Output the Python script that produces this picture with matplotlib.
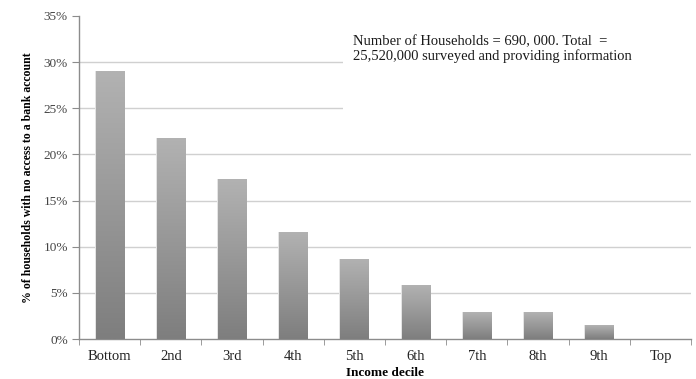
import numpy as np
import matplotlib
matplotlib.use("Agg")
import matplotlib.pyplot as plt
from matplotlib.ticker import FuncFormatter, FixedLocator
from matplotlib.colors import LinearSegmentedColormap

deciles = ["Bottom", "2nd", "3rd", "4th", "5th", "6th", "7th", "8th", "9th", "Top"]
unbanked_pct = [29.0, 21.8, 17.3, 11.6, 8.7, 5.8, 2.9, 2.9, 1.5, 0.0]
y_ticks = [0, 5, 10, 15, 20, 25, 30, 35]
note = "Number of Households = 690, 000. Total  =\n25,520,000 surveyed and providing information"

plt.rcParams["font.family"] = ["Liberation Serif", "DejaVu Serif"]

fig = plt.figure(figsize=(6.96, 3.79), dpi=100)
ax = fig.add_axes([0.1135, 0.1055, 0.8795, 0.8525])

x = np.arange(len(deciles))

# horizontal gridlines
for t in y_ticks[1:-1]:
    ax.axhline(t, color="#d0d0d0", lw=1.0, zorder=0)

# white panel behind the note hides the gridlines there
ax.add_patch(plt.Rectangle((0.432, 0.70), 0.6, 0.31, transform=ax.transAxes,
                           facecolor="white", edgecolor="none", zorder=1, clip_on=False))

cmap = LinearSegmentedColormap.from_list("bar", ["#7e7e7e", "#b2b2b2"])
grad = np.linspace(0, 1, 256).reshape(-1, 1)
width = 0.46
bars = ax.bar(x, unbanked_pct, width=width, color="none", edgecolor="none", zorder=3)
for b in bars:
    h = b.get_height()
    if h <= 0:
        continue
    x0 = b.get_x()
    # soft shadow edge
    ax.bar(b.get_x() + width / 2, h, width=width + 0.03, color="#e4e4e4",
           edgecolor="none", zorder=2)
    im = ax.imshow(grad, cmap=cmap, origin="lower", aspect="auto",
                   extent=(x0, x0 + width, 0, h), zorder=3)
    im.set_clip_path(b)
ax.set_xlim(-0.5, len(deciles) - 0.5)
ax.set_ylim(0, 35)

ax.text(0.447, 0.897, note, transform=ax.transAxes, fontsize=10.5, va="center",
        ha="left", color="#1a1a1a", linespacing=1.15, zorder=4)

for s in ["top", "right"]:
    ax.spines[s].set_visible(False)
for s in ["left", "bottom"]:
    ax.spines[s].set_color("#8c8c8c")
    ax.spines[s].set_linewidth(1.0)

ax.set_yticks(y_ticks)
ax.yaxis.set_major_formatter(FuncFormatter(lambda v, p: f"{int(v)}%"))
ax.set_xticks(x)
ax.set_xticklabels(deciles)
ax.xaxis.set_minor_locator(FixedLocator(np.arange(-0.5, len(deciles), 1.0)))
ax.tick_params(axis="x", which="major", length=0, pad=8, labelsize=10.5, labelcolor="#222222")
ax.tick_params(axis="x", which="minor", length=4, color="#8c8c8c", direction="out")
ax.tick_params(axis="y", length=5, color="#8c8c8c", direction="out", pad=3,
               labelsize=9.5, labelcolor="#444444")

ax.set_xlabel("Income decile", fontsize=9.5, fontweight="bold", labelpad=3)
ax.set_ylabel("% of households with no access to a bank account", fontsize=8.5,
              fontweight="bold", labelpad=7)

fig.savefig("out.png", dpi=100)
